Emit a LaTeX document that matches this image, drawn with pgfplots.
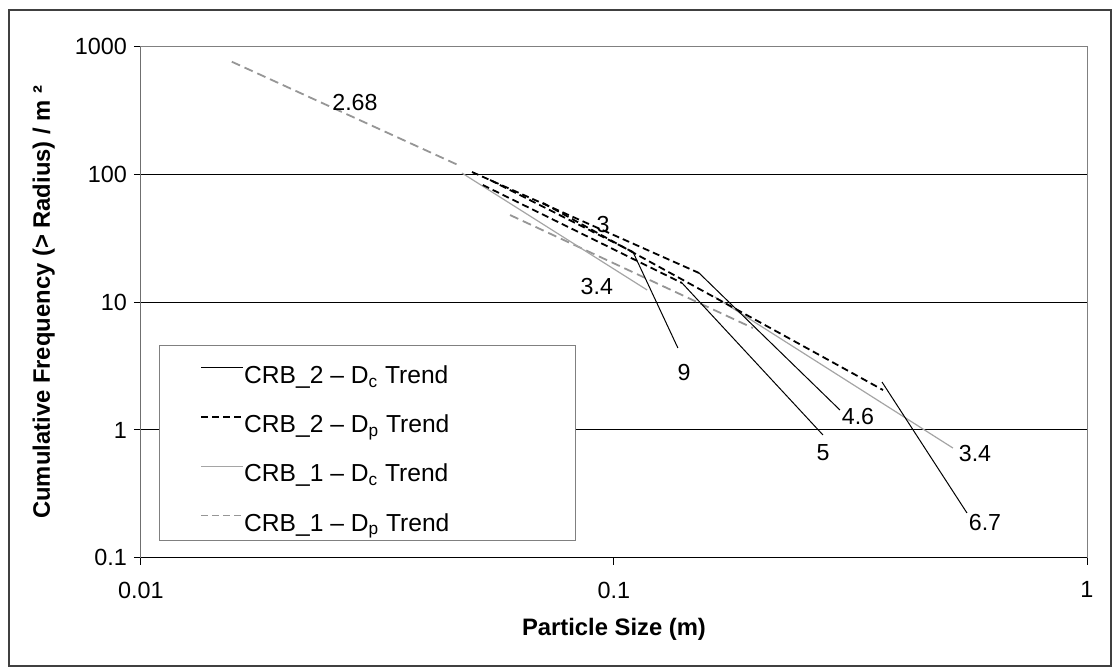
\documentclass[border=0pt]{standalone}
\usepackage{fontspec}
\setmainfont{Liberation Sans}
\usepackage{pgfplots}
\pgfplotsset{compat=1.18}
\definecolor{lgray}{RGB}{165,165,165}
\definecolor{mgray}{RGB}{150,150,150}
\definecolor{fgray}{RGB}{128,128,128}
\begin{document}
\begin{tikzpicture}
\useasboundingbox (-70.5pt,-55.15pt) rectangle (486pt,278.85pt);
\begin{axis}[
  at={(0pt,0pt)}, anchor=south west,
  scale only axis, width=473pt, height=255.5pt,
  xmode=log, ymode=log,
  xmin=0.01, xmax=1, ymin=0.1, ymax=1000,
  xtick={0.01,0.1,1}, xticklabels={0.01,0.1,1},
  ytick={0.1,1,10,100,1000}, yticklabels={0.1,1,10,100,1000},
  xminorticks=false, yminorticks=false,
  tick align=outside, major tick length=3.5pt,
  xtick pos=bottom, ytick pos=left,
  tick style={black, line width=0.5pt},
  ymajorgrids,
  major grid style={black, line width=0.5pt},
  axis line style={fgray, line width=0.5pt},
  ticklabel style={font=\fontsize{11.7}{14}\selectfont},
  xticklabel style={yshift=-5pt},
  xlabel={Particle Size (m)},
  ylabel={Cumulative Frequency (> Radius) / m ²},
  xlabel style={at={(axis description cs:0.5,-0.1513)}, anchor=base, font=\fontsize{11.9}{14}\selectfont\bfseries},
  ylabel style={at={(axis description cs:-0.0962,0.5)}, anchor=base, font=\fontsize{11.9}{14}\selectfont\bfseries},
  legend style={draw=none, fill=none, at={(rel axis cs:0.0624,0.377)}, anchor=north west,
    inner sep=0pt, row sep=12.1pt, font=\fontsize{12.3}{14}\selectfont,
    nodes={text height=9pt, text depth=3.5pt, inner sep=0pt},
    /tikz/every even column/.append style={column sep=2.5pt}},
  legend cell align=left,
  legend image code/.code={\draw[#1] (0pt,5pt) -- (21pt,5pt);},
]
% legend box
\draw[fgray, fill=white, line width=0.5pt] (rel axis cs:0.0201,0.0346) rectangle (rel axis cs:0.4588,0.4162);

\addlegendimage{black, line width=0.5pt}
\addlegendentry{CRB\_2 – D\textsubscript{c} Trend}
\addlegendimage{black, line width=0.9pt, dash pattern=on 3.5pt off 2pt}
\addlegendentry{CRB\_2 – D\textsubscript{p} Trend}
\addlegendimage{lgray, line width=0.6pt}
\addlegendentry{CRB\_1 – D\textsubscript{c} Trend}
\addlegendimage{mgray, line width=0.9pt, dash pattern=on 3.5pt off 2pt}
\addlegendentry{CRB\_1 – D\textsubscript{p} Trend}

% CRB_1 Dp (gray dashed)
\addplot[forget plot, mgray, line width=0.9pt, dash pattern=on 4.5pt off 2.5pt] coordinates {(0.01556,763) (0.0468,118.6)};
\addplot[forget plot, mgray, line width=0.9pt, dash pattern=on 4.5pt off 2.5pt] coordinates {(0.0603,48.1) (0.1967,6.28)};
% CRB_1 Dc (gray solid)
\addplot[forget plot, lgray, line width=0.6pt] coordinates {(0.0477,102.6) (0.1175,12.46)};
\addplot[forget plot, lgray, line width=0.6pt] coordinates {(0.1635,10.99) (0.5207,0.722)};
% CRB_2 Dp (black dashed)
\addplot[forget plot, black, line width=0.9pt, dash pattern=on 3.5pt off 2pt] coordinates {(0.0501,104.5) (0.1513,16.93)};
\addplot[forget plot, black, line width=0.9pt, dash pattern=on 3.5pt off 2pt] coordinates {(0.0528,82.7) (0.1393,14.13)};
\addplot[forget plot, black, line width=0.9pt, dash pattern=on 3.5pt off 2pt] coordinates {(0.0708,59.8) (0.3705,2.054)};
\addplot[forget plot, black, line width=0.9pt, dash pattern=on 3.5pt off 2pt] coordinates {(0.0547,90.5) (0.1097,24.7)};
% CRB_2 Dc (black thin)
\addplot[forget plot, black, line width=0.5pt] coordinates {(0.1097,24.7) (0.1365,4.38)};
\addplot[forget plot, black, line width=0.5pt] coordinates {(0.1393,14.13) (0.2766,0.913)};
\addplot[forget plot, black, line width=0.5pt] coordinates {(0.1513,16.93) (0.3004,1.433)};
\addplot[forget plot, black, line width=0.5pt] coordinates {(0.3687,2.373) (0.5575,0.224)};

% slope labels
\begin{scope}[every node/.style={font=\fontsize{11.6}{14}\selectfont}]
\node at (axis cs:0.02834,362.5) {2.68};
\node at (axis cs:0.0948,40.2) {3};
\node at (axis cs:0.0920,13.15) {3.4};
\node at (axis cs:0.1406,2.84) {9};
\node at (axis cs:0.328,1.263) {4.6};
\node at (axis cs:0.2766,0.660) {5};
\node at (axis cs:0.5797,0.6486) {3.4};
\node at (axis cs:0.6087,0.187) {6.7};
\end{scope}

\draw[black, line width=0.5pt] (rel axis cs:0,0) -- (rel axis cs:0,1);
\draw[black, line width=0.5pt] (rel axis cs:0,0) -- (rel axis cs:1,0);
\end{axis}
\draw[black!75, line width=0.6pt] (-66pt,-54.15pt) rectangle (485pt,273.85pt);
\end{tikzpicture}
\end{document}
